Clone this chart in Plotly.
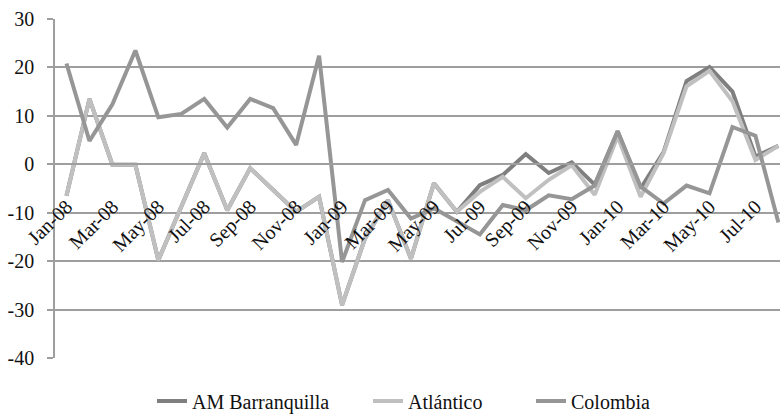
import plotly.graph_objects as go

months = ["Jan-08", "Feb-08", "Mar-08", "Apr-08", "May-08", "Jun-08", "Jul-08", "Aug-08",
          "Sep-08", "Oct-08", "Nov-08", "Dec-08", "Jan-09", "Feb-09", "Mar-09", "Apr-09",
          "May-09", "Jun-09", "Jul-09", "Aug-09", "Sep-09", "Oct-09", "Nov-09", "Dec-09",
          "Jan-10", "Feb-10", "Mar-10", "Apr-10", "May-10", "Jun-10", "Jul-10", "Aug-10"]

am_barranquilla = [-6.5, 13.5, -0.1, -0.1, -19.8, -8.8, 2.3, -9.5, -0.8, -5.3, -9.8, -6.7,
                   -29.1, -15.3, -7.4, -19.5, -3.9, -9.8, -4.3, -2.2, 2.1, -1.8, 0.4, -4.2,
                   6.8, -5.0, 2.5, 17.2, 20.1, 15.0, 1.6, 3.8]
atlantico = [-6.5, 13.5, -0.1, -0.1, -19.8, -8.8, 2.3, -9.5, -0.8, -5.3, -9.8, -6.7,
             -29.1, -15.3, -7.4, -19.5, -3.9, -9.8, -5.7, -2.6, -7.0, -3.2, -0.2, -6.3,
             5.8, -6.7, 2.3, 16.1, 19.3, 13.0, 0.9, 3.8]
colombia = [20.8, 4.8, 12.4, 23.5, 9.7, 10.4, 13.5, 7.6, 13.5, 11.6, 4.0, 22.4,
            -20.2, -7.4, -5.3, -11.2, -9.1, -11.8, -14.5, -8.4, -9.5, -6.4, -7.2, -4.4,
            6.8, -4.6, -8.1, -4.4, -6.0, 7.7, 5.9, -12.0]

y_ticks = [30, 20, 10, 0, -10, -20, -30, -40]
y_tick_text = ["30", "20", "10", "0", "-10", "-20", "-30", "-40"]

series_names = ["AM Barranquilla", "Atlántico", "Colombia"]
series_colors = ["#7f7f7f", "#c0c0c0", "#969696"]
legend_ids = ["legend", "legend2", "legend3"]
legend_x_px = [152, 368, 531]

FONT = "'Liberation Serif', 'Times New Roman', serif"
FS = 20
GRID = "#9e9e9e"
TXT = "#111111"
W, H = 780, 419

idx = list(range(len(months)))
label_idx = idx[::2]
label_text = [months[i] for i in label_idx]
tick_marks = [i + 1.5 for i in label_idx[:-1]]

fig = go.Figure()
for name, vals, col, lg in zip(series_names, [am_barranquilla, atlantico, colombia],
                               series_colors, legend_ids):
    fig.add_trace(go.Scatter(x=idx, y=vals, mode="lines", name=name, legend=lg,
                             line=dict(color=col, width=4)))

ymin, ymax = -40, 30
zero_pos = (0 - ymin) / (ymax - ymin)
xr = [-0.5, 31.07]

legend_common = dict(orientation="h", xref="container", yref="container",
                     xanchor="left", y=(H - 401) / H, yanchor="middle",
                     font=dict(family=FONT, size=FS, color=TXT),
                     itemwidth=30, bgcolor="rgba(0,0,0,0)")

fig.update_layout(
    width=W, height=H,
    margin=dict(l=55, r=0, t=19, b=61, autoexpand=False),
    paper_bgcolor="white", plot_bgcolor="white",
    font=dict(family=FONT, size=FS, color=TXT),
    showlegend=True,
    legend=dict(x=legend_x_px[0] / W, **legend_common),
    legend2=dict(x=legend_x_px[1] / W, **legend_common),
    legend3=dict(x=legend_x_px[2] / W, **legend_common),
    xaxis=dict(range=xr, domain=[0, 1], anchor="free", position=zero_pos,
               tickvals=label_idx, ticktext=label_text, tickangle=-45,
               ticks="", showgrid=False, zeroline=False, ticklabelstandoff=22,
               showline=True, linecolor=GRID, linewidth=1.5, automargin=False,
               tickfont=dict(family=FONT, size=FS, color=TXT)),
    xaxis2=dict(range=xr, domain=[0, 1], overlaying="x", anchor="free", position=zero_pos,
                tickvals=tick_marks, ticks="outside", ticklen=6, tickcolor=GRID, tickwidth=1.5,
                showticklabels=False, showgrid=False, zeroline=False, showline=False),
    yaxis=dict(range=[ymin, ymax], tickvals=y_ticks, ticktext=y_tick_text,
               showgrid=True, gridcolor=GRID, gridwidth=1.5, zeroline=False,
               showline=True, linecolor=GRID, linewidth=1.5, automargin=False,
               ticks="outside", ticklen=6, tickcolor=GRID, tickwidth=1.5,
               ticklabelstandoff=9,
               tickfont=dict(family=FONT, size=FS, color=TXT)),
)

fig.write_html("out.html")
